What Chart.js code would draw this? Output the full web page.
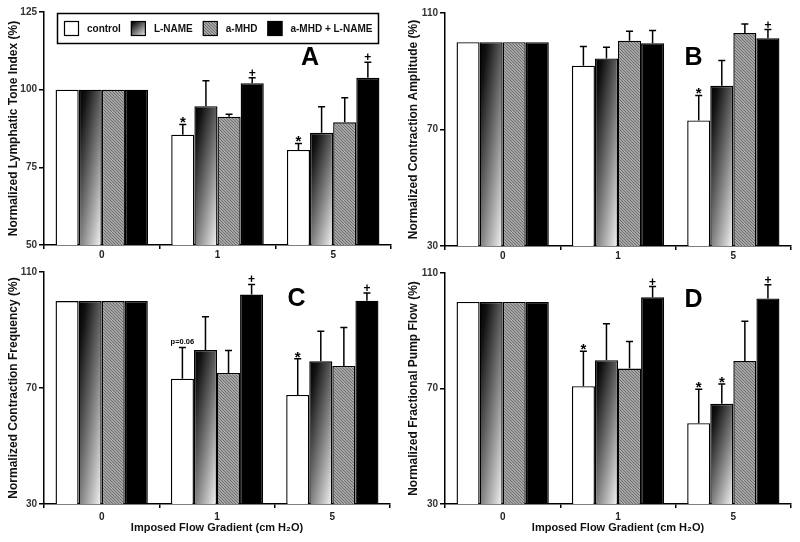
<!DOCTYPE html>
<html>
<head>
<meta charset="utf-8">
<script src="https://cdn.jsdelivr.net/npm/chart.js@4.4.0/dist/chart.umd.min.js"></script>
<style>
  body { margin: 0; background: #fff; width: 800px; height: 542px; position: relative; overflow: hidden; }
  canvas { position: absolute; }
</style>
</head>
<body>
<canvas id="pA" width="400" height="271" style="left:0;top:0"></canvas>
<canvas id="pB" width="400" height="271" style="left:400px;top:0"></canvas>
<canvas id="pC" width="400" height="280" style="left:0;top:262px"></canvas>
<canvas id="pD" width="400" height="280" style="left:400px;top:262px"></canvas>
<script>
const groups = ['0', '1', '5'];
const seriesNames = ['control', 'L-NAME', 'a-MHD', 'a-MHD + L-NAME'];

// A: lymphatic tone index
const toneControl = [100, 85.5, 80.6];
const toneLname   = [100, 94.7, 86.1];
const toneAmhd    = [100, 91.3, 89.5];
const toneBoth    = [100, 102.1, 103.8];
const toneErrControl = [0, 3.3, 2.1];
const toneErrLname   = [0, 8.2, 8.4];
const toneErrAmhd    = [0, 0.8, 7.9];
const toneErrBoth    = [0, 1.7, 5.0];

// B: contraction amplitude
const ampControl = [100, 91.9, 73.1];
const ampLname   = [100, 94.4, 85.0];
const ampAmhd    = [100, 100.5, 103.1];
const ampBoth    = [100, 99.6, 101.3];
const ampErrControl = [0, 6.6, 8.6];
const ampErrLname   = [0, 3.8, 8.7];
const ampErrAmhd    = [0, 3.2, 3.1];
const ampErrBoth    = [0, 4.4, 3.0];

// C: contraction frequency
const freqControl = [100, 73.2, 67.6];
const freqLname   = [100, 83.1, 79.2];
const freqAmhd    = [100, 75.2, 77.6];
const freqBoth    = [100, 102.2, 100.1];
const freqErrControl = [0, 10.8, 12.5];
const freqErrLname   = [0, 11.5, 10.4];
const freqErrAmhd    = [0, 7.7, 13.3];
const freqErrBoth    = [0, 3.5, 2.7];

// D: fractional pump flow
const flowControl = [100, 70.8, 58.0];
const flowLname   = [100, 79.8, 64.7];
const flowAmhd    = [100, 76.9, 79.5];
const flowBoth    = [100, 101.6, 101.2];
const flowErrControl = [0, 12.1, 11.7];
const flowErrLname   = [0, 12.6, 6.9];
const flowErrAmhd    = [0, 9.4, 13.8];
const flowErrBoth    = [0, 3.7, 4.7];

// significance marks: [series, group, text]
const toneMarks = [[0, 1, '*'], [0, 2, '*'], [3, 1, '+'], [3, 2, '+']];
const ampMarks  = [[0, 2, '*'], [3, 2, '+']];
const freqMarks = [[0, 1, 'p=0.06'], [0, 2, '*'], [3, 1, '+'], [3, 2, '+']];
const flowMarks = [[0, 1, '*'], [0, 2, '*'], [1, 2, '*'], [3, 1, '+'], [3, 2, '+']];

const toneTicks = [50, 75, 100, 125];
const pctTicks = [30, 70, 110];

const FONT = '"Liberation Sans", Arial, Helvetica, sans-serif';

// fine gray hatch for a-MHD
const hatch = (() => {
  const c = document.createElement('canvas');
  c.width = 3; c.height = 3;
  const g = c.getContext('2d');
  g.fillStyle = '#a6a6a6';
  g.fillRect(0, 0, 3, 3);
  g.fillStyle = '#6e6e6e';
  for (let i = 0; i < 3; i++) g.fillRect(i, i, 1, 1);
  return g.createPattern(c, 'repeat');
})();

// black -> white shading across one bar (top-left dark, bottom-right light)
function shade(ctx, x0, y0, x1, y1) {
  const w = Math.max(x1 - x0, 1), h = Math.max(y1 - y0, 1);
  const fx = 0.45, fy = 0.55;
  const r = (fx / w) / (fy / h);
  const b = h / (fy * (1 + r * r));
  const a = r * b;
  if (![x0, y0, a, b].every(Number.isFinite)) return '#666';
  const g = ctx.createLinearGradient(x0, y0, x0 + a, y0 + b);
  g.addColorStop(0, '#000');
  g.addColorStop(0.15, '#111');
  g.addColorStop(0.55, '#7a7a7a');
  g.addColorStop(1, '#f6f6f6');
  return g;
}

function lnameFill(c) {
  const chart = c.chart;
  const xs = chart.scales.x, ys = chart.scales.y;
  if (!xs || !ys || c.dataIndex === undefined) return '#666';
  const center = xs.getPixelForValue(c.dataIndex);
  const bw = xs.width / groups.length * 0.8 / 4;
  const left = center + (c.datasetIndex - 2) * bw;
  return shade(chart.ctx, left, ys.getPixelForValue(c.raw), left + bw, ys.getPixelForValue(ys.min));
}

const fills = ['#ffffff', lnameFill, hatch, '#000000'];

const extras = {
  id: 'extras',
  afterDatasetsDraw(chart, args, opts) {
    const ctx = chart.ctx, ys = chart.scales.y, area = chart.chartArea;
    ctx.save();
    ctx.strokeStyle = '#000';
    ctx.lineWidth = 1.5;
    const tops = [];
    chart.data.datasets.forEach((ds, di) => {
      tops[di] = [];
      chart.getDatasetMeta(di).data.forEach((bar, i) => {
        const e = opts.errors[di][i];
        const yTop = ys.getPixelForValue(ds.data[i] + e);
        tops[di][i] = { x: bar.x, y: yTop };
        if (!e) return;
        ctx.beginPath();
        ctx.moveTo(bar.x, bar.y);
        ctx.lineTo(bar.x, yTop);
        ctx.moveTo(bar.x - 3.5, yTop);
        ctx.lineTo(bar.x + 3.5, yTop);
        ctx.stroke();
      });
    });
    ctx.fillStyle = '#000';
    ctx.textAlign = 'center';
    ctx.textBaseline = 'alphabetic';
    opts.marks.forEach(([di, i, txt]) => {
      const p = tops[di][i];
      if (txt === '*') {
        ctx.font = 'bold 15px ' + FONT;
        ctx.fillText(txt, p.x, p.y + 3);
      } else if (txt === '+') {
        ctx.font = 'bold 12px ' + FONT;
        ctx.fillText(txt, p.x, p.y - 1);
      } else {
        ctx.font = 'bold 7.5px ' + FONT;
        ctx.fillText(txt, p.x, p.y - 3);
      }
    });
    ctx.font = 'bold 25px ' + FONT;
    ctx.textBaseline = 'middle';
    ctx.fillText(opts.letter, area.left + opts.letterAt[0] * area.width, area.top + opts.letterAt[1] * area.height);
    ctx.restore();
  }
};

const legendBox = {
  id: 'legendBox',
  afterDraw(chart) {
    const ctx = chart.ctx;
    ctx.save();
    ctx.strokeStyle = '#000';
    ctx.lineWidth = 1.5;
    ctx.strokeRect(57.5, 13.5, 321, 30);
    ctx.font = 'bold 10px ' + FONT;
    ctx.textBaseline = 'middle';
    ctx.textAlign = 'left';
    let x = 64;
    const y = 21, s = 15;
    chart.data.datasets.forEach((ds, di) => {
      const f = di === 1 ? shade(ctx, x, y, x + s, y + s) : ds.backgroundColor;
      ctx.fillStyle = f;
      ctx.fillRect(x, y, s, s);
      ctx.lineWidth = 1.2;
      ctx.strokeRect(x + 0.5, y + 0.5, s - 1, s - 1);
      ctx.fillStyle = '#111';
      ctx.fillText(ds.label, x + s + 8, y + s / 2 + 0.5);
      x += s + 8 + ctx.measureText(ds.label).width + 10;
    });
    ctx.restore();
  }
};

function makePanel(id, p) {
  const values = [p.control, p.lname, p.amhd, p.both];
  const chart = new Chart(document.getElementById(id), {
    type: 'bar',
    data: {
      labels: groups,
      datasets: values.map((v, di) => ({
        label: seriesNames[di],
        data: v,
        backgroundColor: fills[di],
        borderColor: '#000',
        borderWidth: 1.4,
        categoryPercentage: 0.8,
        barPercentage: 1
      }))
    },
    options: {
      responsive: false,
      animation: false,
      events: [],
      layout: { padding: p.pad },
      plugins: {
        legend: { display: false },
        tooltip: { enabled: false },
        extras: { errors: p.errors, marks: p.marks, letter: p.letter, letterAt: p.letterAt }
      },
      scales: {
        x: {
          offset: true,
          grid: { offset: true, drawOnChartArea: false, color: '#000', lineWidth: 1.5, tickLength: 4 },
          border: { color: '#000', width: 1.5 },
          ticks: { color: '#222', padding: p.xPad, font: { family: FONT, size: 10, weight: 'bold' } },
          title: {
            display: p.xTitle,
            text: 'Imposed Flow Gradient (cm H\u2082O)',
            color: '#111',
            font: { family: FONT, size: 11, weight: 'bold' },
            padding: { top: 0, bottom: 7 }
          },
          afterFit: s => { s.height = p.xh; }
        },
        y: {
          min: p.ticks[0],
          max: p.ticks[p.ticks.length - 1],
          afterBuildTicks: s => { s.ticks = p.ticks.map(v => ({ value: v })); },
          grid: { drawOnChartArea: false, color: '#000', lineWidth: 1.5, tickLength: 5 },
          border: { color: '#000', width: 1.5 },
          ticks: { color: '#333', padding: 2, font: { family: FONT, size: 10, weight: 'bold' } },
          title: {
            display: true,
            text: p.yTitle,
            color: '#111',
            font: { family: FONT, size: 12, weight: 'bold' },
            padding: { top: 6, bottom: 0 }
          },
          afterFit: s => { s.width = p.yw; }
        }
      }
    },
    plugins: p.legend ? [extras, legendBox] : [extras]
  });
  chart.update('none');
  return chart;
}

makePanel('pA', {
  control: toneControl, lname: toneLname, amhd: toneAmhd, both: toneBoth,
  errors: [toneErrControl, toneErrLname, toneErrAmhd, toneErrBoth],
  marks: toneMarks, ticks: toneTicks, letter: 'A', letterAt: [0.767, 0.2],
  yTitle: 'Normalized Lymphatic Tone Index (%)', xTitle: false, legend: true,
  pad: { top: 12, right: 9, bottom: 0, left: 0 }, yw: 44, xh: 26, xPad: 0
});
makePanel('pB', {
  control: ampControl, lname: ampLname, amhd: ampAmhd, both: ampBoth,
  errors: [ampErrControl, ampErrLname, ampErrAmhd, ampErrBoth],
  marks: ampMarks, ticks: pctTicks, letter: 'B', letterAt: [0.718, 0.195],
  yTitle: 'Normalized Contraction Amplitude (%)', xTitle: false, legend: false,
  pad: { top: 13, right: 9, bottom: 0, left: 0 }, yw: 45, xh: 25, xPad: 0
});
makePanel('pC', {
  control: freqControl, lname: freqLname, amhd: freqAmhd, both: freqBoth,
  errors: [freqErrControl, freqErrLname, freqErrAmhd, freqErrBoth],
  marks: freqMarks, ticks: pctTicks, letter: 'C', letterAt: [0.73, 0.118],
  yTitle: 'Normalized Contraction Frequency (%)', xTitle: true, legend: false,
  pad: { top: 10, right: 10, bottom: 0, left: 0 }, yw: 44, xh: 38, xPad: 3
});
makePanel('pD', {
  control: flowControl, lname: flowLname, amhd: flowAmhd, both: flowBoth,
  errors: [flowErrControl, flowErrLname, flowErrAmhd, flowErrBoth],
  marks: flowMarks, ticks: pctTicks, letter: 'D', letterAt: [0.718, 0.116],
  yTitle: 'Normalized Fractional Pump Flow (%)', xTitle: true, legend: false,
  pad: { top: 11, right: 9, bottom: 0, left: 0 }, yw: 45, xh: 38, xPad: 3
});
</script>
</body>
</html>
